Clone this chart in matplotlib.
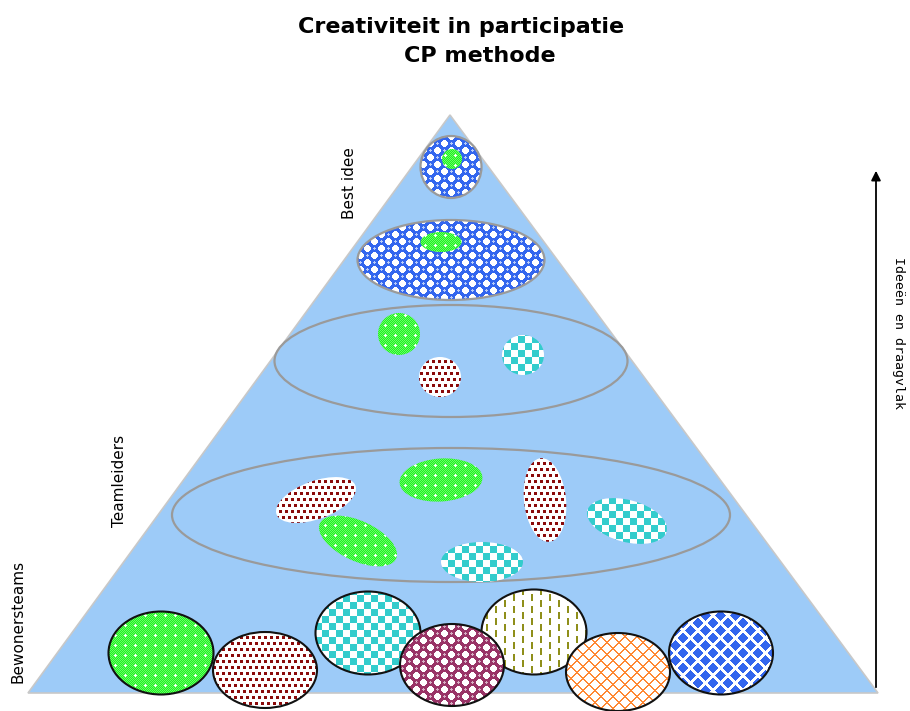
import numpy as np
import matplotlib.pyplot as plt
from matplotlib.patches import Ellipse, Polygon

# pyramid (pixel coordinates of the picture)
pyramide = [(450, 115), (28, 693), (878, 693)]

# big grey rings: centre x, centre y, width, height
ringen_x = [451, 451]
ringen_y = [361, 515]
ringen_w = [353, 558]
ringen_h = [112, 134]

# idea blobs: centre x, centre y, width, height, angle, pattern, outline
blob_x = [451, 452, 451, 441,
          399, 440, 523,
          316, 441, 358, 545, 627, 482,
          161, 265, 368, 534, 452, 618, 721]
blob_y = [167, 159, 260, 242,
          334, 377, 355,
          500, 480, 541, 500, 521, 562,
          653, 670, 633, 632, 665, 672, 653]
blob_w = [61, 20, 187, 41,
          42, 42, 42,
          84, 83, 84, 42, 82, 82,
          105, 104, 105, 105, 104, 104, 104]
blob_h = [62, 20, 80, 20,
          42, 40, 40,
          38, 43, 40, 84, 42, 40,
          83, 76, 83, 85, 82, 78, 83]
blob_hoek = [0, 0, 0, 0,
             0, 0, 0,
             -20, -4, 25, -6, 15, 0,
             0, 0, 0, 0, 0, 0, 0]
blob_patroon = ['blauwbol', 'groen', 'blauwbol', 'groen',
                'groen', 'bruin', 'cyaan',
                'bruin', 'groen', 'groen', 'bruin', 'cyaan', 'cyaan',
                'groen', 'bruin', 'cyaan', 'olijf', 'paars', 'oranje', 'ruit']
blob_rand = ['grijs', 'geen', 'grijs', 'geen',
             'geen', 'geen', 'geen',
             'geen', 'geen', 'geen', 'geen', 'geen', 'geen',
             'zwart', 'zwart', 'zwart', 'zwart', 'zwart', 'zwart', 'zwart']

labels_links = ['Best idee', 'Teamleiders', 'Bewonersteams']
labels_x = [350, 120, 18]
labels_y = [183, 481, 621]


def kleur(h):
    return np.array([int(h[i:i + 2], 16) for i in (1, 3, 5)]) / 255.0


def patroon(soort, xx, yy):
    wit = kleur('#FFFFFF')
    img = np.ones(xx.shape + (3,))
    if soort == 'groen':
        img[:] = kleur('#22EE22')
        img[(xx + yy) % 2 == 0] = kleur('#66FF66')
        kruis = (((xx % 10 == 5) & (np.abs(yy % 10 - 5) <= 1)) |
                 ((yy % 10 == 5) & (np.abs(xx % 10 - 5) <= 1)))
        img[kruis] = wit
    elif soort == 'bruin':
        rij = yy // 6
        m = (((xx + (rij % 2) * 3) % 6) < 3) & ((yy % 6) < 3)
        img[m] = kleur('#8B0A0A')
    elif soort == 'cyaan':
        m = ((xx // 7 + yy // 7) % 2) == 0
        img[m] = kleur('#33CCCC')
    elif soort in ('blauwbol', 'paars'):
        basis = '#3366EE' if soort == 'blauwbol' else '#993366'
        licht = '#B9CCF8' if soort == 'blauwbol' else '#D8B0C4'
        m = ((xx // 7 + yy // 7) % 2) == 0
        d = (xx % 7 - 3) ** 2 + (yy % 7 - 3) ** 2
        img[m] = kleur(basis)
        img[m & (d < 2)] = kleur(licht)
        img[(~m) & (d > 10)] = kleur(basis)
    elif soort == 'olijf':
        kol = xx // 9
        m = ((xx % 9) < 2) & (((yy + (kol % 2) * 6) % 12) < 7)
        img[m] = kleur('#8F8F1A')
    elif soort == 'oranje':
        m = (((xx + yy) % 12) < 1.5) | (((xx - yy) % 12) < 1.5)
        img[m] = kleur('#FF8833')
    elif soort == 'ruit':
        a = np.abs(xx % 15 - 7.5) + np.abs(yy % 15 - 7.5)
        b = np.abs((xx + 7.5) % 15 - 7.5) + np.abs((yy + 7.5) % 15 - 7.5)
        img[(a < 5.5) | (b < 5.5)] = kleur('#3366EE')
    return img


fig = plt.figure(figsize=(9.1, 7.11), dpi=100)
ax = fig.add_axes([0, 0, 1, 1])
ax.set_xlim(0, 910)
ax.set_ylim(711, 0)
ax.axis('off')

ax.add_patch(Polygon(pyramide, closed=True, facecolor='#9DCBF8',
                     edgecolor='#C8C8C8', lw=1.2, zorder=1))

for x, y, w, h in zip(ringen_x, ringen_y, ringen_w, ringen_h):
    ax.add_patch(Ellipse((x, y), w, h, facecolor='none', edgecolor='#9A9A9A',
                         lw=1.6, zorder=2))

randkleuren = {'grijs': ('#9A9A9A', 1.6), 'zwart': ('#111111', 1.5), 'geen': ('none', 0)}

z = 3
for x, y, w, h, hoek, soort, rand in zip(blob_x, blob_y, blob_w, blob_h, blob_hoek,
                                          blob_patroon, blob_rand):
    e = Ellipse((x, y), w, h, angle=hoek, facecolor='none', edgecolor='none', zorder=z)
    ax.add_patch(e)
    r = int(max(w, h) / 2) + 2
    x0, x1, y0, y1 = int(x) - r, int(x) + r, int(y) - r, int(y) + r
    xx, yy = np.meshgrid(np.arange(x0, x1), np.arange(y0, y1))
    im = ax.imshow(patroon(soort, xx, yy), extent=(x0, x1, y1, y0),
                   interpolation='nearest', zorder=z)
    im.set_clip_path(e)
    kl, lw = randkleuren[rand]
    if lw > 0:
        ax.add_patch(Ellipse((x, y), w, h, angle=hoek, facecolor='none',
                             edgecolor=kl, lw=lw, zorder=z + 0.5))
    z += 1

ax.set_aspect('auto')
ax.set_xlim(0, 910)
ax.set_ylim(711, 0)

ax.text(461, 27, 'Creativiteit in participatie', fontsize=16, fontweight='bold',
        ha='center', va='center')
ax.text(480, 56, 'CP methode', fontsize=16, fontweight='bold',
        ha='center', va='center')

for t, x, y in zip(labels_links, labels_x, labels_y):
    ax.text(x, y, t, rotation=90, fontsize=11, ha='center', va='center')

ax.annotate('', xy=(876, 168), xytext=(876, 690),
            arrowprops=dict(arrowstyle='-|>', color='black', lw=1.3,
                            mutation_scale=14))
ax.text(898, 333, 'Ideeën en draagvlak', rotation=-90, fontsize=9.5,
        family='DejaVu Sans Mono', ha='center', va='center')

fig.savefig('out.png', dpi=100)
